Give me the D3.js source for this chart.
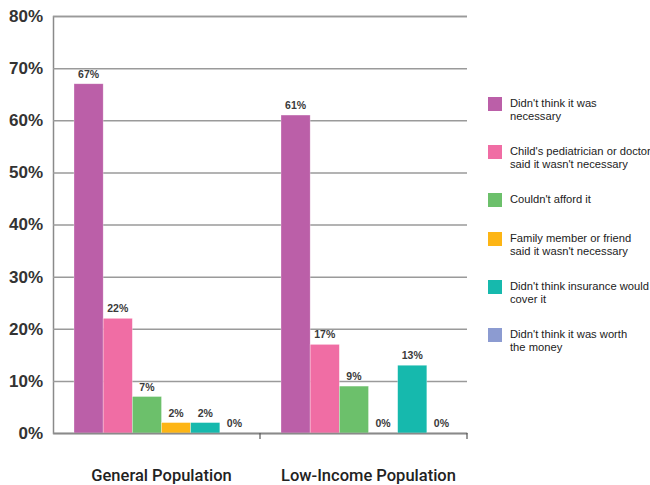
<!DOCTYPE html>
<html>
<head>
<meta charset="utf-8">
<script src="https://cdn.jsdelivr.net/npm/d3@7"></script>
<style>
  html, body { margin: 0; padding: 0; background: #fff; }
  svg { display: block; font-family: "Liberation Sans", Arial, sans-serif; }
</style>
</head>
<body>
<svg id="chart" width="650" height="485"></svg>
<script>
// Survey groups along the x axis
const groups = ["General Population", "Low-Income Population"];

// Reasons (series), in legend order
const reasons = [
  "Didn't think it was necessary",
  "Child's pediatrician or doctor said it wasn't necessary",
  "Couldn't afford it",
  "Family member or friend said it wasn't necessary",
  "Didn't think insurance would cover it",
  "Didn't think it was worth the money"
];

// Legend text, broken into lines
const legendLines = [
  ["Didn't think it was", "necessary"],
  ["Child's pediatrician or doctor", "said it wasn't necessary"],
  ["Couldn't afford it"],
  ["Family member or friend", "said it wasn't necessary"],
  ["Didn't think insurance would", "cover it"],
  ["Didn't think it was worth", "the money"]
];

// Percent of respondents per reason, one array per group
const generalValues   = [67, 22, 7, 2, 2, 0];
const lowIncomeValues = [61, 17, 9, 0, 13, 0];

const yTicks = [0, 10, 20, 30, 40, 50, 60, 70, 80];

const colors = ["#bb5fa8", "#f06da4", "#6cc06b", "#fdb515", "#16b9ad", "#8c9bd1"];

const table = groups.map((g, i) => ({
  group: g,
  values: (i === 0 ? generalValues : lowIncomeValues).map((v, j) => ({ reason: reasons[j], value: v }))
}));

const svg = d3.select("#chart");
const plot = { left: 53, right: 467, top: 16, bottom: 433 };

const y = d3.scaleLinear().domain([0, 80]).range([plot.bottom, plot.top]);
const x0 = d3.scaleBand().domain(groups).range([plot.left, plot.right]);
const x1 = d3.scaleBand().domain(reasons).range([21, 196]);
const color = d3.scaleOrdinal().domain(reasons).range(colors);

// Horizontal gridlines with percent labels
const yAxis = d3.axisLeft(y)
  .tickValues(yTicks)
  .tickFormat(d => d + "%")
  .tickSize(-(plot.right - plot.left))
  .tickPadding(10);

const gy = svg.append("g")
  .attr("transform", `translate(${plot.left},0)`)
  .call(yAxis);
gy.select(".domain").attr("stroke", "#8a8a8a").attr("stroke-width", 1.5);
gy.selectAll(".tick line").attr("stroke", "#9a9a9a").attr("stroke-width", 1.5);
gy.selectAll(".tick text")
  .attr("fill", "#333")
  .attr("font-size", 17)
  .attr("font-weight", "bold");

// Bars
const gGroups = svg.append("g").selectAll("g")
  .data(table)
  .join("g")
  .attr("transform", d => `translate(${x0(d.group)},0)`);

gGroups.selectAll("rect")
  .data(d => d.values)
  .join("rect")
  .attr("x", d => x1(d.reason))
  .attr("y", d => y(d.value))
  .attr("width", x1.bandwidth())
  .attr("height", d => y(0) - y(d.value))
  .attr("fill", d => color(d.reason))
  .attr("stroke", "#fff")
  .attr("stroke-opacity", 0.5)
  .attr("stroke-width", 0.6);

// Value labels above bars
gGroups.selectAll("text.val")
  .data(d => d.values)
  .join("text")
  .attr("class", "val")
  .attr("x", d => x1(d.reason) + x1.bandwidth() / 2)
  .attr("y", d => y(d.value) - 6)
  .attr("text-anchor", "middle")
  .attr("font-size", 10.5)
  .attr("font-weight", "bold")
  .attr("fill", "#3a3a3a")
  .text(d => d.value + "%");

// Baseline with group separator ticks
const xAxis = d3.axisBottom(x0).tickValues([]).tickSizeOuter(0);
svg.append("g")
  .attr("transform", `translate(0,${plot.bottom})`)
  .call(xAxis)
  .select(".domain").attr("stroke", "#8a8a8a").attr("stroke-width", 1.5);

svg.append("g").selectAll("line")
  .data(groups)
  .join("line")
  .attr("x1", d => x0(d) + x0.bandwidth())
  .attr("x2", d => x0(d) + x0.bandwidth())
  .attr("y1", plot.bottom)
  .attr("y2", plot.bottom + 6)
  .attr("stroke", "#555")
  .attr("stroke-width", 1.2);

// Group labels centered under their bars
svg.append("g").selectAll("text")
  .data(groups)
  .join("text")
  .attr("x", d => x0(d) + (x1.range()[0] + x1.range()[1]) / 2)
  .attr("y", 481)
  .attr("text-anchor", "middle")
  .attr("font-family", "Roboto, 'Liberation Sans', sans-serif")
  .attr("font-size", 16.5)
  .attr("font-weight", 500)
  .attr("fill", "#222")
  .text(d => d);

// Legend
const legend = svg.append("g").attr("transform", "translate(488,0)");
let ly = 97;
reasons.forEach((r, i) => {
  const item = legend.append("g").attr("transform", `translate(0,${ly})`);
  item.append("rect")
    .attr("width", 14).attr("height", 14)
    .attr("fill", color(r));
  item.selectAll("text")
    .data(legendLines[i])
    .join("text")
    .attr("x", 22)
    .attr("y", (d, k) => 10 + k * 12.5)
    .attr("font-size", 11.2)
    .attr("fill", "#222")
    .text(d => d);
  ly += 30 + 9 * legendLines[i].length;
});
</script>
</body>
</html>
